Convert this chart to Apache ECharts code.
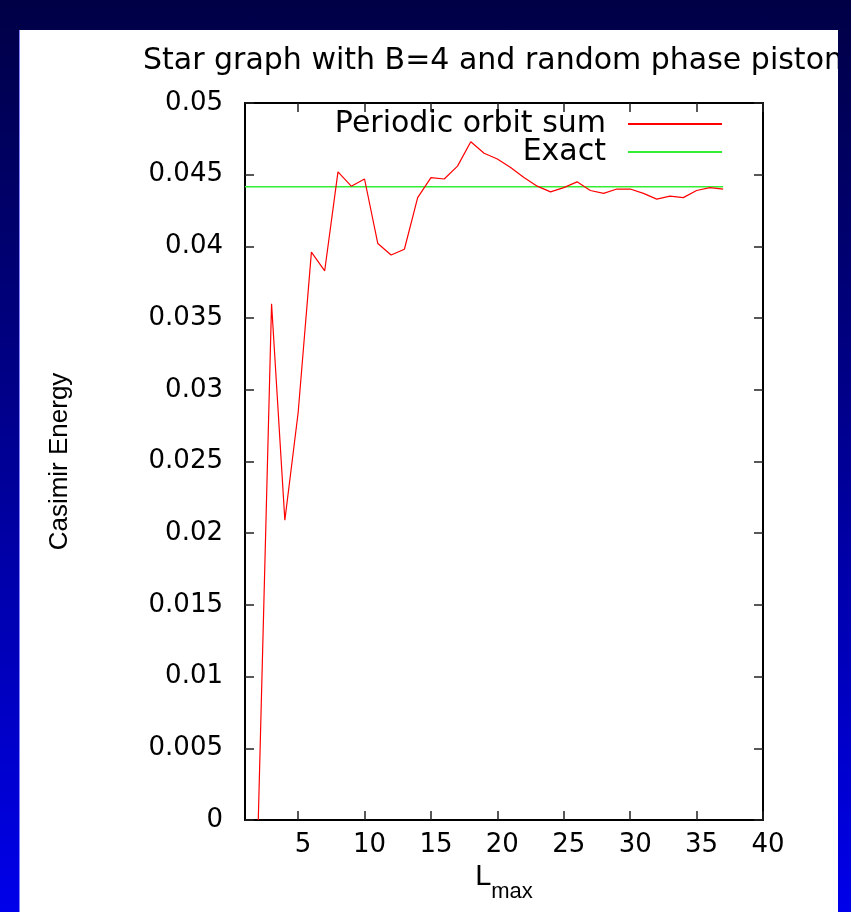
<!DOCTYPE html>
<html>
<head>
<meta charset="utf-8">
<script src="https://cdn.jsdelivr.net/npm/echarts@6/dist/echarts.min.js"></script>
<style>
  html, body { margin: 0; padding: 0; width: 851px; height: 912px; overflow: hidden; }
  body { background: linear-gradient(to bottom, #000046 0%, #00008c 45%, #0000ea 100%); position: relative; }
  #panel { position: absolute; left: 20px; top: 30px; width: 818px; height: 882px; background: #ffffff; overflow: hidden; box-shadow: -1px 0 0 #8080ff; }
  #chart { position: absolute; left: 0; top: 0; width: 818px; height: 882px; }
</style>
</head>
<body>
<div id="panel"><div id="chart"></div></div>
<script>
// ---- data ----
const titleText = 'Star graph with B=4 and random phase piston';
const seriesNames = ['Periodic orbit sum', 'Exact'];
const lmax = [2, 3, 4, 5, 6, 7, 8, 9, 10, 11, 12, 13, 14, 15, 16, 17, 18, 19,
              20, 21, 22, 23, 24, 25, 26, 27, 28, 29, 30, 31, 32, 33, 34, 35, 36, 37];
const orbitSum = [0.0000, 0.0360, 0.0209, 0.0284, 0.0396, 0.0383, 0.0452, 0.0442, 0.0447,
                  0.0402, 0.0394, 0.0398, 0.0434, 0.0448, 0.0447, 0.0456, 0.0473, 0.0465,
                  0.0461, 0.0455, 0.0448, 0.0442, 0.0438, 0.0441, 0.0445, 0.0439, 0.0437,
                  0.0440, 0.0440, 0.0437, 0.0433, 0.0435, 0.0434, 0.0439, 0.0441, 0.0440];
const exactX = [1, 37];
const exactValue = 0.04416;
const xTicks = [5, 10, 15, 20, 25, 30, 35, 40];
const xRange = [1, 40];
const yRange = [0, 0.05];
const yStep = 0.005;

const chart = echarts.init(document.getElementById('chart'), null, { renderer: 'canvas' });

const tickFont = { fontFamily: 'DejaVu Sans', fontSize: 26, color: '#000' };
const axisLineStyle = { show: true, onZero: false, lineStyle: { color: '#000', width: 2 } };
const tickStyle = { show: true, inside: true, length: 9, lineStyle: { color: '#222', width: 1.5 } };

const option = {
  animation: false,
  backgroundColor: '#ffffff',
  title: {
    text: titleText,
    left: 123, top: 16, padding: 0,
    textStyle: { fontFamily: 'DejaVu Sans', fontSize: 30, fontWeight: 'normal', color: '#000' }
  },
  legend: [
    {
      data: [seriesNames[0]], orient: 'vertical', align: 'right',
      right: 116, top: 79, padding: 0,
      icon: 'rect', itemWidth: 94, itemHeight: 2,
      textStyle: { fontFamily: 'DejaVu Sans', fontSize: 30, color: '#000', padding: [0, 17, 0, 0] }
    },
    {
      data: [seriesNames[1]], orient: 'vertical', align: 'right',
      right: 116, top: 107, padding: 0,
      icon: 'rect', itemWidth: 94, itemHeight: 2,
      textStyle: { fontFamily: 'DejaVu Sans', fontSize: 30, color: '#000', padding: [0, 17, 0, 0] }
    }
  ],
  grid: { left: 225, right: 75, top: 73, bottom: 92, containLabel: false },
  xAxis: [
    {
      type: 'value', min: xRange[0], max: xRange[1], position: 'bottom',
      name: '{L|L}{s|max}', nameLocation: 'middle', nameGap: 29,
      nameTextStyle: {
        rich: {
          L: { fontFamily: 'Liberation Sans', fontSize: 29, color: '#000', verticalAlign: 'bottom', padding: [0, 0, 11, 0] },
          s: { fontFamily: 'Liberation Sans', fontSize: 22, color: '#000', verticalAlign: 'bottom' }
        }
      },
      axisLine: axisLineStyle,
      axisTick: Object.assign({}, tickStyle, { customValues: xTicks }),
      axisLabel: Object.assign({}, tickFont, { customValues: xTicks, margin: 12, padding: [0, 0, 0, 10] }),
      splitLine: { show: false }
    },
    {
      type: 'value', min: xRange[0], max: xRange[1], position: 'top',
      axisLine: axisLineStyle,
      axisTick: Object.assign({}, tickStyle, { customValues: xTicks }),
      axisLabel: { show: false },
      splitLine: { show: false }
    }
  ],
  yAxis: [
    {
      type: 'value', min: yRange[0], max: yRange[1], interval: yStep, position: 'left',
      name: 'Casimir Energy', nameLocation: 'middle', nameRotate: 90, nameGap: 172,
      nameTextStyle: { fontFamily: 'Liberation Sans', fontSize: 26, color: '#000' },
      axisLine: axisLineStyle,
      axisTick: tickStyle,
      axisLabel: Object.assign({}, tickFont, { margin: 22 }),
      splitLine: { show: false }
    },
    {
      type: 'value', min: yRange[0], max: yRange[1], interval: yStep, position: 'right',
      axisLine: axisLineStyle,
      axisTick: tickStyle,
      axisLabel: { show: false },
      splitLine: { show: false }
    }
  ],
  series: [
    {
      name: seriesNames[0], type: 'line', xAxisIndex: 0, yAxisIndex: 0,
      data: lmax.map((l, i) => [l, orbitSum[i]]),
      showSymbol: false, symbol: 'none', clip: true,
      color: '#ff0000',
      lineStyle: { color: '#ff0000', width: 1.2 },
      z: 3
    },
    {
      name: seriesNames[1], type: 'line', xAxisIndex: 0, yAxisIndex: 0,
      data: exactX.map(x => [x, exactValue]),
      showSymbol: false, symbol: 'none',
      color: '#33ee33',
      lineStyle: { color: '#33ee33', width: 1.6 },
      z: 2
    }
  ]
};
chart.setOption(option);
</script>
</body>
</html>
